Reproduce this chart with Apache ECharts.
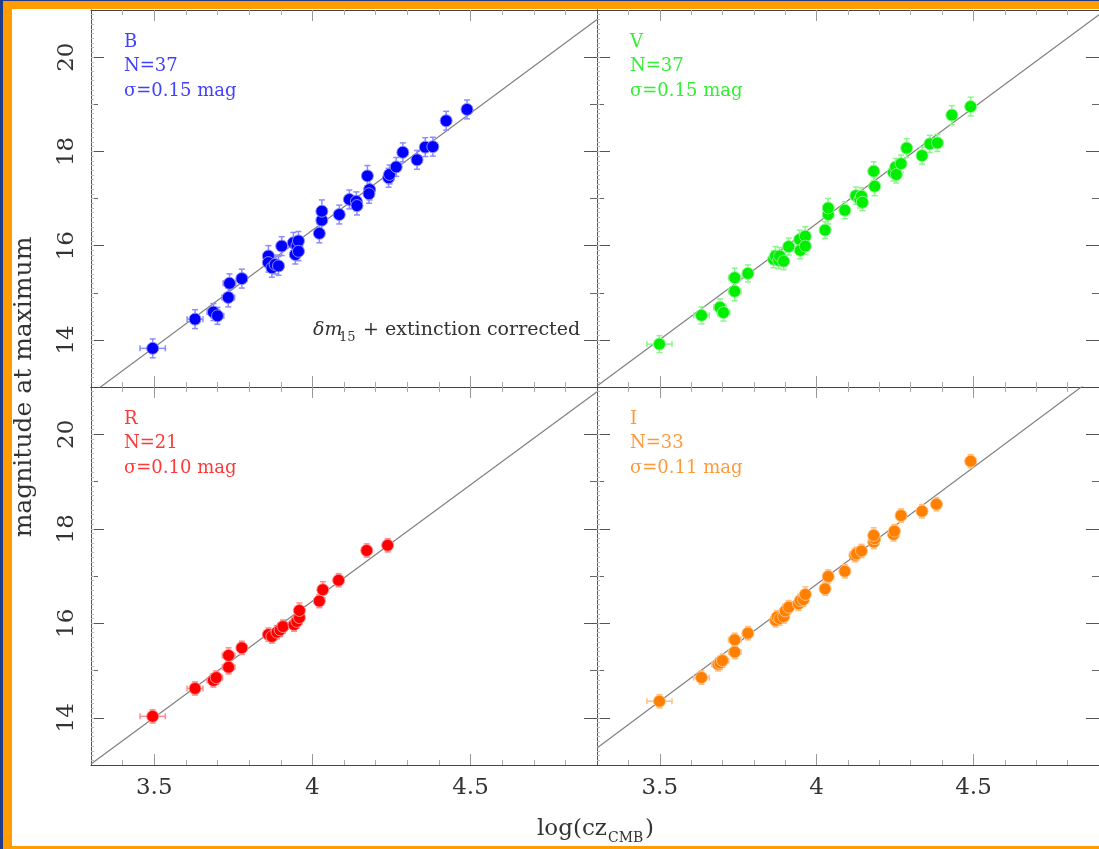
<!DOCTYPE html>
<html><head><meta charset="utf-8">
<script src="https://cdn.jsdelivr.net/npm/echarts@6/dist/echarts.min.js"></script>
<style>html,body{margin:0;padding:0;background:#fff}#c{width:1099px;height:849px}</style>
</head><body><div id="c"></div><script>
// ---------- data ----------
const bandNames = ['B', 'V', 'R', 'I'];
const countLabels = ['N=37', 'N=37', 'N=21', 'N=33'];
const sigmaLabels = ['σ=0.15 mag', 'σ=0.15 mag', 'σ=0.10 mag', 'σ=0.11 mag'];
const xTickLabels = [3.5, 4, 4.5];
const yTickLabels = [14, 16, 18, 20];
const yHalfTicks = [15, 17, 19];
const xMinorTicks = [3.4, 3.6, 3.7, 3.8, 3.9, 4.1, 4.2, 4.3, 4.4, 4.6, 4.7, 4.8];

// [log cz, mag, x error, y error]
const pointsB = [
  [3.495, 13.82, 0.04, 0.2], [3.629, 14.44, 0.025, 0.2], [3.687, 14.59, 0.02, 0.18],
  [3.700, 14.51, 0.02, 0.18], [3.734, 14.90, 0.02, 0.2], [3.738, 15.20, 0.02, 0.2],
  [3.777, 15.30, 0.015, 0.2], [3.861, 15.78, 0.015, 0.22], [3.861, 15.64, 0.015, 0.2],
  [3.872, 15.53, 0.015, 0.2], [3.882, 15.60, 0.015, 0.2], [3.893, 15.57, 0.015, 0.2],
  [3.903, 15.99, 0.015, 0.2], [3.940, 16.06, 0.015, 0.22], [3.951, 15.99, 0.015, 0.2],
  [3.956, 16.10, 0.015, 0.2], [3.946, 15.81, 0.015, 0.2], [3.956, 15.88, 0.015, 0.2],
  [4.022, 16.26, 0.01, 0.2], [4.030, 16.54, 0.01, 0.22], [4.030, 16.73, 0.01, 0.24],
  [4.085, 16.66, 0.01, 0.2], [4.117, 16.98, 0.01, 0.2], [4.139, 16.94, 0.01, 0.2],
  [4.141, 16.85, 0.01, 0.2], [4.174, 17.48, 0.01, 0.22], [4.181, 17.19, 0.01, 0.22],
  [4.179, 17.10, 0.01, 0.2], [4.241, 17.44, 0.01, 0.2], [4.244, 17.51, 0.01, 0.2],
  [4.265, 17.67, 0.01, 0.2], [4.286, 17.98, 0.01, 0.2], [4.331, 17.82, 0.01, 0.2],
  [4.357, 18.09, 0.01, 0.2], [4.381, 18.10, 0.01, 0.2], [4.423, 18.65, 0.01, 0.2],
  [4.489, 18.89, 0.01, 0.2]
];
const pointsV = [
  [3.499, 13.91, 0.04, 0.18], [3.633, 14.52, 0.025, 0.18], [3.692, 14.69, 0.02, 0.18],
  [3.703, 14.58, 0.02, 0.18], [3.739, 15.03, 0.02, 0.2], [3.739, 15.32, 0.02, 0.2],
  [3.781, 15.41, 0.015, 0.18], [3.863, 15.71, 0.015, 0.18], [3.869, 15.78, 0.015, 0.2],
  [3.879, 15.69, 0.015, 0.18], [3.882, 15.78, 0.015, 0.18], [3.895, 15.67, 0.015, 0.18],
  [3.911, 15.98, 0.015, 0.18], [3.946, 16.13, 0.015, 0.2], [3.964, 16.20, 0.015, 0.2],
  [3.948, 15.90, 0.015, 0.18], [3.964, 15.99, 0.015, 0.18], [4.027, 16.33, 0.01, 0.18],
  [4.037, 16.66, 0.01, 0.2], [4.037, 16.80, 0.01, 0.2], [4.090, 16.75, 0.01, 0.18],
  [4.125, 17.06, 0.01, 0.18], [4.138, 16.98, 0.01, 0.18], [4.143, 17.05, 0.01, 0.18],
  [4.146, 16.92, 0.01, 0.18], [4.182, 17.58, 0.01, 0.2], [4.185, 17.26, 0.01, 0.2],
  [4.245, 17.55, 0.01, 0.18], [4.252, 17.67, 0.01, 0.18], [4.254, 17.51, 0.01, 0.18],
  [4.269, 17.74, 0.01, 0.18], [4.287, 18.07, 0.01, 0.2], [4.336, 17.91, 0.01, 0.18],
  [4.361, 18.16, 0.01, 0.18], [4.385, 18.18, 0.01, 0.18], [4.431, 18.77, 0.01, 0.2],
  [4.491, 18.95, 0.01, 0.2]
];
const pointsR = [
  [3.495, 14.03, 0.04, 0.14], [3.629, 14.62, 0.025, 0.14], [3.687, 14.79, 0.02, 0.14],
  [3.696, 14.85, 0.02, 0.14], [3.735, 15.07, 0.02, 0.14], [3.735, 15.32, 0.02, 0.16],
  [3.777, 15.48, 0.015, 0.14], [3.861, 15.76, 0.015, 0.14], [3.872, 15.72, 0.015, 0.14],
  [3.888, 15.81, 0.015, 0.14], [3.898, 15.86, 0.015, 0.14], [3.907, 15.93, 0.015, 0.14],
  [3.942, 15.97, 0.015, 0.14], [3.951, 16.04, 0.015, 0.14], [3.959, 16.12, 0.015, 0.14],
  [3.959, 16.27, 0.015, 0.16], [4.022, 16.47, 0.01, 0.14], [4.033, 16.71, 0.01, 0.17],
  [4.083, 16.91, 0.01, 0.14], [4.172, 17.54, 0.01, 0.14], [4.238, 17.65, 0.01, 0.14]
];
const pointsI = [
  [3.499, 14.35, 0.04, 0.14], [3.633, 14.85, 0.025, 0.14], [3.686, 15.13, 0.02, 0.14],
  [3.692, 15.16, 0.02, 0.14], [3.700, 15.21, 0.02, 0.14], [3.739, 15.39, 0.02, 0.14],
  [3.739, 15.65, 0.02, 0.14], [3.781, 15.79, 0.015, 0.14], [3.869, 16.06, 0.015, 0.14],
  [3.874, 16.13, 0.015, 0.14], [3.882, 16.10, 0.015, 0.14], [3.895, 16.14, 0.015, 0.14],
  [3.900, 16.26, 0.015, 0.14], [3.911, 16.34, 0.015, 0.14], [3.942, 16.41, 0.015, 0.14],
  [3.948, 16.48, 0.015, 0.14], [3.958, 16.50, 0.015, 0.14], [3.964, 16.61, 0.015, 0.16],
  [4.027, 16.73, 0.01, 0.14], [4.037, 16.99, 0.01, 0.14], [4.090, 17.10, 0.01, 0.14],
  [4.122, 17.44, 0.01, 0.14], [4.127, 17.47, 0.01, 0.14], [4.143, 17.53, 0.01, 0.14],
  [4.182, 17.72, 0.01, 0.14], [4.185, 17.79, 0.01, 0.14], [4.182, 17.86, 0.01, 0.16],
  [4.245, 17.88, 0.01, 0.14], [4.248, 17.95, 0.01, 0.14], [4.269, 18.28, 0.01, 0.14],
  [4.336, 18.37, 0.01, 0.14], [4.382, 18.52, 0.01, 0.14], [4.491, 19.43, 0.01, 0.14]
];
// Hubble-line endpoints [log cz, mag]
const fitB = [[3.3, 12.85], [4.9, 20.8]];
const fitV = [[3.3, 13.02], [4.9, 20.9]];
const fitR = [[3.3, 13.02], [4.9, 20.9]];
const fitI = [[3.3, 13.36], [4.9, 21.28]];

// ---------- styling ----------
const allPoints = [pointsB, pointsV, pointsR, pointsI];
const allFits = [fitB, fitV, fitR, fitI];
const dotColors = ['#0000ff', '#00ee00', '#ff0000', '#ff8000'];
const errColors = ['#8c8cff', '#8cf58c', '#ff8c8c', '#ffbf80'];
const textColors = ['#4040ff', '#33ee33', '#ff3838', '#ff9a3a'];
const SERIF = 'DejaVu Serif';
const PANELS = [
  { left: 91, top: 10, width: 506, height: 377, xl: false, yl: true, tx: 124, ty: 42 },
  { left: 597, top: 10, width: 505, height: 377, xl: false, yl: false, tx: 630, ty: 42 },
  { left: 91, top: 387, width: 506, height: 378, xl: true, yl: true, tx: 124, ty: 419 },
  { left: 597, top: 387, width: 505, height: 378, xl: true, yl: false, tx: 630, ty: 419 }
];
const yHatch = [];
for (let v = 13.1; v < 21; v += 0.1) yHatch.push(+v.toFixed(1));

const grids = [], xAxes = [], yAxes = [], series = [];
const NX = 4, NY = 6;
PANELS.forEach((p, g) => {
  grids.push({ left: p.left, top: p.top, width: p.width, height: p.height, containLabel: false });
  const xBase = { gridIndex: g, type: 'value', min: 3.3, max: 4.9, splitLine: { show: false } };
  const xLine = { show: true, onZero: false, lineStyle: { color: '#444', width: 1 } };
  ['bottom', 'top'].forEach(pos => {
    xAxes.push(Object.assign({}, xBase, {
      position: pos, axisLine: xLine,
      axisTick: { show: true, inside: true, length: 11, customValues: xTickLabels, lineStyle: { color: '#999', width: 1 } },
      axisLabel: {
        show: pos === 'bottom' && p.xl, customValues: xTickLabels, margin: 12,
        fontFamily: SERIF, fontSize: 23, color: '#333', formatter: v => String(v)
      }
    }));
    xAxes.push(Object.assign({}, xBase, {
      position: pos, axisLine: { show: false },
      axisTick: { show: true, inside: true, length: 5, customValues: xMinorTicks, lineStyle: { color: '#aaa', width: 1 } },
      axisLabel: { show: false }
    }));
  });
  const yBase = { gridIndex: g, type: 'value', min: 13, max: 21, splitLine: { show: false } };
  ['left', 'right'].forEach(pos => {
    yAxes.push(Object.assign({}, yBase, {
      position: pos, axisLine: { show: true, onZero: false, lineStyle: { color: '#555', width: 1 } },
      axisTick: { show: true, inside: true, length: 13, customValues: yTickLabels, lineStyle: { color: '#555', width: 1 } },
      axisLabel: {
        show: pos === 'left' && p.yl, customValues: yTickLabels, rotate: 90, margin: 12,
        fontFamily: SERIF, fontSize: 23, color: '#333', formatter: v => String(v)
      }
    }));
    yAxes.push(Object.assign({}, yBase, {
      position: pos, axisLine: { show: false },
      axisTick: { show: true, inside: true, length: 7, customValues: yHalfTicks, lineStyle: { color: '#666', width: 1 } },
      axisLabel: { show: false }
    }));
    yAxes.push(Object.assign({}, yBase, {
      position: pos, axisLine: { show: false },
      axisTick: { show: pos === 'left', inside: true, length: 3, customValues: yHatch, lineStyle: { color: '#bbb', width: 1 } },
      axisLabel: { show: false }
    }));
  });

  const xi = g * NX, yi = g * NY;
  series.push({
    type: 'line', xAxisIndex: xi, yAxisIndex: yi, data: allFits[g], symbol: 'none', silent: true,
    lineStyle: { color: '#808080', width: 1.2 }, z: 1, clip: true
  });
  series.push({
    type: 'custom', xAxisIndex: xi, yAxisIndex: yi, data: allPoints[g], z: 2, silent: true,
    renderItem: (params, api) => {
      const x = api.value(0), y = api.value(1), ex = api.value(2), ey = api.value(3);
      const t = api.coord([x, y + ey]), b = api.coord([x, y - ey]);
      const l = api.coord([x - ex, y]), r = api.coord([x + ex, y]);
      const st = { stroke: errColors[g], lineWidth: 1.5 };
      const cap = 3;
      return {
        type: 'group', children: [
          { type: 'line', shape: { x1: t[0], y1: t[1], x2: b[0], y2: b[1] }, style: st },
          { type: 'line', shape: { x1: t[0] - cap, y1: t[1], x2: t[0] + cap, y2: t[1] }, style: st },
          { type: 'line', shape: { x1: b[0] - cap, y1: b[1], x2: b[0] + cap, y2: b[1] }, style: st },
          { type: 'line', shape: { x1: l[0], y1: l[1], x2: r[0], y2: r[1] }, style: st },
          { type: 'line', shape: { x1: l[0], y1: l[1] - cap, x2: l[0], y2: l[1] + cap }, style: st },
          { type: 'line', shape: { x1: r[0], y1: r[1] - cap, x2: r[0], y2: r[1] + cap }, style: st }
        ]
      };
    }
  });
  series.push({
    type: 'scatter', xAxisIndex: xi, yAxisIndex: yi, data: allPoints[g], symbolSize: 12, z: 3,
    itemStyle: { color: dotColors[g], borderColor: errColors[g], borderWidth: 1, opacity: 1 }
  });
});

// ---------- annotations ----------
const graphic = [
  { type: 'rect', shape: { x: 0, y: 0, width: 1099, height: 9 }, style: { fill: '#ff9d00' }, silent: true },
  { type: 'rect', shape: { x: 0, y: 0, width: 12, height: 849 }, style: { fill: '#ff9d00' }, silent: true },
  { type: 'rect', shape: { x: 0, y: 846, width: 1099, height: 3 }, style: { fill: '#ff9d00' }, silent: true },
  { type: 'rect', shape: { x: 0, y: 0, width: 3, height: 849 }, style: { fill: '#203c8c' }, silent: true },
  { type: 'rect', shape: { x: 0, y: 0, width: 1099, height: 1 }, style: { fill: '#203c8c' }, silent: true }
];
PANELS.forEach((p, g) => {
  const lines = [bandNames[g], countLabels[g], sigmaLabels[g]];
  lines.forEach((t, k) => {
    graphic.push({
      type: 'text', x: p.tx, y: p.ty + k * 24.5, silent: true,
      style: { text: t, fill: textColors[g], font: '18px "DejaVu Serif"', textVerticalAlign: 'middle', textAlign: 'left' }
    });
  });
});
const noteFont = '19px "DejaVu Serif"';
graphic.push(
  { type: 'text', x: 313, y: 330, silent: true, style: { text: 'δm', fill: '#333', font: 'italic 19px "DejaVu Serif"', textVerticalAlign: 'middle' } },
  { type: 'text', x: 339, y: 338, silent: true, style: { text: '15', fill: '#333', font: '13px "DejaVu Serif"', textVerticalAlign: 'middle' } },
  { type: 'text', x: 357, y: 330, silent: true, style: { text: ' + extinction corrected', fill: '#333', font: noteFont, textVerticalAlign: 'middle' } },
  // y-axis title
  { type: 'text', x: 24, y: 387, rotation: Math.PI / 2, silent: true,
    style: { text: 'magnitude at maximum', fill: '#333', font: '25px "DejaVu Serif"', textAlign: 'center', textVerticalAlign: 'middle' } },
  // x-axis title
  { type: 'text', x: 537, y: 829, silent: true, style: { text: 'log(cz', fill: '#333', font: '23px "DejaVu Serif"', textVerticalAlign: 'middle' } },
  { type: 'text', x: 608, y: 838, silent: true, style: { text: 'CMB', fill: '#333', font: '14px "DejaVu Serif"', textVerticalAlign: 'middle' } },
  { type: 'text', x: 645, y: 829, silent: true, style: { text: ')', fill: '#333', font: '23px "DejaVu Serif"', textVerticalAlign: 'middle' } }
);

const chart = echarts.init(document.getElementById('c'), null, { renderer: 'canvas' });
chart.setOption({
  backgroundColor: '#ffffff',
  animation: false,
  grid: grids, xAxis: xAxes, yAxis: yAxes, series: series, graphic: graphic
});
</script></body></html>
